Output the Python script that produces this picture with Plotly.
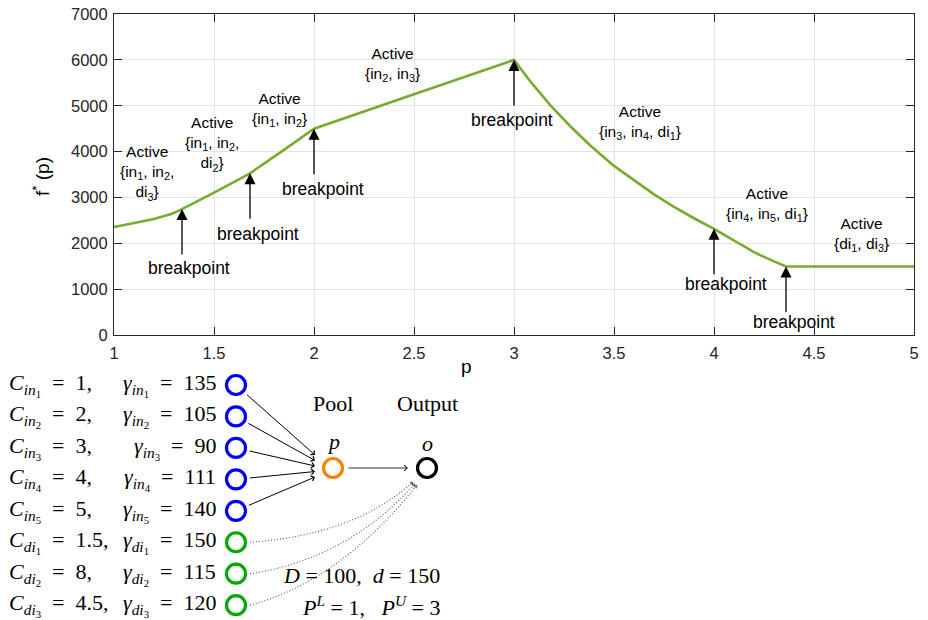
import math
import plotly.graph_objects as go

# ---------------- optimal cost curve f*(p) ----------------
p_vals = [1.00, 1.10, 1.20, 1.29, 1.34, 1.51, 1.68, 1.85, 2.00, 2.50, 3.00,
          3.08, 3.18, 3.28, 3.38, 3.50, 3.60, 3.70, 3.80, 3.90, 4.00,
          4.10, 4.20, 4.30, 4.36, 5.00]
f_vals = [2360, 2440, 2535, 2650, 2750, 3130, 3530, 4040, 4500, 5250, 6000,
          5540, 5020, 4560, 4140, 3690, 3370, 3070, 2800, 2550, 2320,
          2060, 1810, 1610, 1500, 1500]

# breakpoints of the piecewise curve
bp_p = [1.34, 1.68, 2.00, 3.00, 4.00, 4.36]
bp_f = [2750, 3530, 4500, 6000, 2320, 1500]
# pixel offset of each "breakpoint" caption from its arrow tip
bp_dx = [7, 8, 9, -2, 12, 8]
bp_dy = [-59, -61, -60, -60, -55, -56]

# active constraint sets per interval
active_text = [
    "Active<br>{in<sub>1</sub>, in<sub>2</sub>,<br>di<sub>3</sub>}",
    "Active<br>{in<sub>1</sub>, in<sub>2</sub>,<br>di<sub>2</sub>}",
    "Active<br>{in<sub>1</sub>, in<sub>2</sub>}",
    "Active<br>{in<sub>2</sub>, in<sub>3</sub>}",
    "Active<br>{in<sub>3</sub>, in<sub>4</sub>, di<sub>1</sub>}",
    "Active<br>{in<sub>4</sub>, in<sub>5</sub>, di<sub>1</sub>}",
    "Active<br>{di<sub>1</sub>, di<sub>3</sub>}",
]
active_x = [1.165, 1.49, 1.8275, 2.39, 3.63, 4.265, 4.735]
active_y = [3540, 4170, 4929, 5889, 4636, 2839, 2196]

x_ticks = [1, 1.5, 2, 2.5, 3, 3.5, 4, 4.5, 5]
y_ticks = [0, 1000, 2000, 3000, 4000, 5000, 6000, 7000]

# ---------------- network parameters ----------------
node_kind = ["in", "in", "in", "in", "in", "di", "di", "di"]
node_idx = [1, 2, 3, 4, 5, 1, 2, 3]
C_vals = [1, 2, 3, 4, 5, 1.5, 8, 4.5]
gamma_vals = [135, 105, 90, 111, 140, 150, 115, 120]
D_val, d_val = 100, 150
P_L, P_U = 1, 3

W, H = 928, 620
SANS = "Liberation Sans, Arial, sans-serif"
SERIF = "Liberation Serif, Times New Roman, serif"
INK = "#262626"
GREEN_LINE = "#77AC30"
EQ = "\u00a0\u00a0=\u00a0\u00a0"

# diagram layout (pixel-like units on an overlay axis pair)
DIAG_TOP = 362
X_IN, X_POOL, X_OUT = 236, 333, 427
ROW0, ROW_STEP = 385, 31.45
Y_POOL = 468
node_colors = {"in": "#0000FF", "di": "#00AA00"}

fig = go.Figure()

fig.add_trace(go.Scatter(
    x=p_vals, y=f_vals, mode="lines",
    line=dict(color=GREEN_LINE, width=2.6),
    xaxis="x", yaxis="y", hoverinfo="skip", showlegend=False,
))

annotations = []

# arrows pointing at breakpoints + captions
for px_, fy, dx, dy in zip(bp_p, bp_f, bp_dx, bp_dy):
    annotations.append(dict(
        x=px_, y=fy, xref="x", yref="y", text="", showarrow=True,
        ax=0, ay=47, arrowhead=2, arrowsize=1.7, arrowwidth=1.3, arrowcolor="black",
    ))
    annotations.append(dict(
        x=px_, y=fy, xref="x", yref="y", text="breakpoint", showarrow=False,
        xshift=dx, yshift=dy, xanchor="center", yanchor="middle",
        font=dict(family=SANS, size=17.5, color="black"),
    ))

for t, ax_, ay_ in zip(active_text, active_x, active_y):
    annotations.append(dict(
        x=ax_, y=ay_, xref="x", yref="y", text=t, showarrow=False,
        xanchor="center", yanchor="middle",
        font=dict(family=SANS, size=15.5, color="black"), align="center",
    ))

# axis titles
annotations.append(dict(
    x=467 / W, y=1 - 366 / H, xref="paper", yref="paper", text="p", showarrow=False,
    xanchor="center", yanchor="middle",
    font=dict(family=SANS, size=19, color="black"),
))
annotations.append(dict(
    x=41 / W, y=1 - 177 / H, xref="paper", yref="paper", text="f<sup>*</sup> (p)",
    showarrow=False, textangle=-90, xanchor="center", yanchor="middle",
    font=dict(family=SANS, size=19, color="black"),
))

# ---------------- network diagram ----------------
rows = [ROW0 + i * ROW_STEP for i in range(len(C_vals))]

fig.add_trace(go.Scatter(
    x=[X_IN] * len(rows) + [X_POOL, X_OUT],
    y=rows + [Y_POOL, Y_POOL],
    mode="markers",
    marker=dict(symbol="circle-open", size=19,
                color=[node_colors[k] for k in node_kind] + ["#FF8000", "black"],
                line=dict(width=3.2)),
    xaxis="x2", yaxis="y2", hoverinfo="skip", showlegend=False,
))


def fmt(v):
    return f"{v:g}"


for k, i, c, g, y in zip(node_kind, node_idx, C_vals, gamma_vals, rows):
    annotations.append(dict(
        x=7, y=y, xref="x2", yref="y2", xanchor="left", yanchor="middle",
        showarrow=False,
        text=f"<i>C</i><sub><i>{k}</i><sub>{i}</sub></sub>{EQ}{fmt(c)},",
        font=dict(family=SERIF, size=22, color="black"),
    ))
    annotations.append(dict(
        x=218, y=y, xref="x2", yref="y2", xanchor="right", yanchor="middle",
        showarrow=False,
        text=f"<i>γ</i><sub><i>{k}</i><sub>{i}</sub></sub>{EQ}{g}",
        font=dict(family=SERIF, size=22, color="black"),
    ))

# solid arrows: inflow nodes -> pool
for j, (k, y) in enumerate(zip(node_kind, rows)):
    if k != "in":
        continue
    ex, ey = X_POOL - 18, Y_POOL - 13 + 5.5 * j
    ddx, ddy = ex - X_IN, ey - y
    n = math.hypot(ddx, ddy)
    sx, sy = X_IN + 12.5 * ddx / n, y + 12.5 * ddy / n
    annotations.append(dict(
        x=ex, y=ey, ax=sx, ay=sy, xref="x2", yref="y2", axref="x2", ayref="y2",
        text="", showarrow=True, arrowhead=4, arrowsize=1.1, arrowwidth=1,
        arrowcolor="black",
    ))

# pool -> output
annotations.append(dict(
    x=X_OUT - 19, y=Y_POOL, ax=X_POOL + 14, ay=Y_POOL,
    xref="x2", yref="y2", axref="x2", ayref="y2",
    text="", showarrow=True, arrowhead=4, arrowsize=1.1, arrowwidth=1,
    arrowcolor="#333333",
))

# dotted curves: demand nodes -> output
shapes = []
m = 0
for k, y in zip(node_kind, rows):
    if k != "di":
        continue
    sx, sy = X_IN + 14, y
    ex, ey = X_OUT - 14 + 2 * m, Y_POOL + 14 + 1.5 * m
    cx = sx + (0.64 - 0.05 * m) * (ex - sx)
    cy = sy - (0.12 + 0.04 * m) * (sy - ey)
    shapes.append(dict(
        type="path", xref="x2", yref="y2",
        path=f"M {sx},{sy} Q {cx},{cy} {ex},{ey}",
        line=dict(color="#555555", width=1.1, dash="1px,2px"),
    ))
    tx, ty = ex - cx, ey - cy
    n = math.hypot(tx, ty)
    annotations.append(dict(
        x=ex, y=ey, ax=ex - 6 * tx / n, ay=ey - 6 * ty / n,
        xref="x2", yref="y2", axref="x2", ayref="y2",
        text="", showarrow=True, arrowhead=4, arrowsize=1, arrowwidth=0.8,
        arrowcolor="#555555",
    ))
    m += 1

# node captions
for txt, x, y, it in [("Pool", X_POOL, 403, False), ("Output", X_OUT, 403, False),
                      ("p", X_POOL, 441, True), ("o", X_OUT, 443, True)]:
    annotations.append(dict(
        x=x, y=y, xref="x2", yref="y2", showarrow=False,
        xanchor="center", yanchor="middle",
        text=f"<i>{txt}</i>" if it else txt,
        font=dict(family=SERIF, size=22, color="black"),
    ))

annotations.append(dict(
    x=442, y=575, xref="x2", yref="y2", xanchor="right", yanchor="middle",
    showarrow=False,
    text=f"<i>D</i> = {D_val},\u00a0 <i>d</i> = {d_val}",
    font=dict(family=SERIF, size=22, color="black"),
))
annotations.append(dict(
    x=442, y=606, xref="x2", yref="y2", xanchor="right", yanchor="middle",
    showarrow=False,
    text=(f"<i>P</i><sup><i>L</i></sup> = {P_L},\u00a0\u00a0 "
          f"<i>P</i><sup><i>U</i></sup> = {P_U}"),
    font=dict(family=SERIF, size=22, color="black"),
))

axis_common = dict(
    showline=True, linecolor=INK, linewidth=1, mirror="ticks",
    ticks="inside", ticklen=8, tickwidth=1, tickcolor=INK,
    showgrid=True, gridcolor="#e4e4e4", gridwidth=1, zeroline=False,
    automargin=False,
    tickfont=dict(family=SANS, size=16.5, color=INK),
)

fig.update_layout(
    width=W, height=H,
    margin=dict(l=0, r=0, t=0, b=0),
    paper_bgcolor="white", plot_bgcolor="white",
    showlegend=False,
    xaxis=dict(domain=[114 / W, 914 / W], range=[1, 5], tickvals=x_ticks,
               anchor="y", ticklabelstandoff=3, **axis_common),
    yaxis=dict(domain=[1 - 335.3 / H, 1 - 14 / H], range=[0, 7000], tickvals=y_ticks,
               anchor="x", ticklabelstandoff=2, **axis_common),
    xaxis2=dict(domain=[0, 1], range=[0, W], visible=False, anchor="y2",
                fixedrange=True, automargin=False),
    yaxis2=dict(domain=[0, 1 - DIAG_TOP / H], range=[H, DIAG_TOP], visible=False,
                anchor="x2", fixedrange=True, automargin=False),
    annotations=annotations,
    shapes=shapes,
)

fig.write_html("out.html")
